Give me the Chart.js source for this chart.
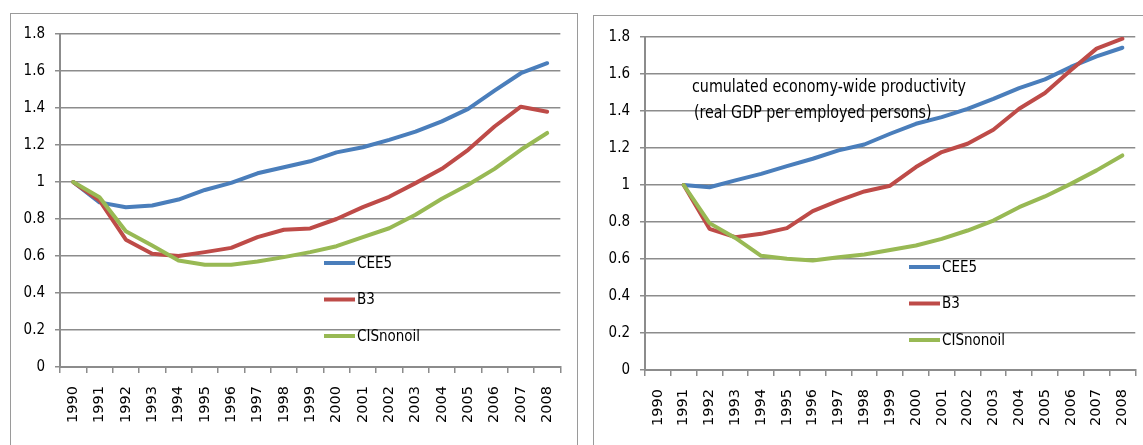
<!DOCTYPE html>
<html><head><meta charset="utf-8">
<script src="https://cdn.jsdelivr.net/npm/chart.js@4.4.0/dist/chart.umd.min.js"></script>
<style>
html,body{margin:0;padding:0;width:1143px;height:445px;overflow:hidden;background:#fff;}
.box{position:absolute;border:1px solid #9a9a9a;box-sizing:border-box;}
#b1{left:10px;top:13px;width:568px;height:470px;}
#b2{left:593px;top:15px;width:620px;height:470px;}
canvas{position:absolute;}
#c1{left:10px;top:13px;}
#c2{left:593px;top:15px;}
</style></head>
<body>
<div class="box" id="b1"></div>
<div class="box" id="b2"></div>
<canvas id="c1" width="568" height="432"></canvas>
<canvas id="c2" width="560" height="430"></canvas>
<script>
const years = ['1990','1991','1992','1993','1994','1995','1996','1997','1998','1999','2000','2001','2002','2003','2004','2005','2006','2007','2008'];
const seriesNames = ['CEE5','B3','CISnonoil'];
const yTicks = [0,0.2,0.4,0.6,0.8,1,1.2,1.4,1.6,1.8];

// left chart
const leftCEE5 = [1.00,0.89,0.864,0.873,0.905,0.957,0.995,1.047,1.08,1.112,1.16,1.188,1.228,1.272,1.328,1.395,1.494,1.588,1.642];
const leftB3   = [1.00,0.90,0.688,0.612,0.600,0.621,0.644,0.702,0.742,0.749,0.80,0.864,0.92,0.994,1.071,1.174,1.30,1.407,1.38];
const leftCIS  = [1.00,0.918,0.734,0.657,0.576,0.553,0.553,0.57,0.594,0.621,0.653,0.702,0.75,0.823,0.909,0.985,1.071,1.174,1.265];

// right chart
const rightCEE5 = [null,1.00,0.988,1.025,1.06,1.102,1.142,1.187,1.219,1.277,1.331,1.367,1.412,1.466,1.524,1.571,1.638,1.695,1.742];
const rightB3   = [null,1.00,0.763,0.718,0.736,0.767,0.859,0.916,0.965,0.996,1.097,1.178,1.223,1.299,1.412,1.497,1.62,1.737,1.791];
const rightCIS  = [null,1.00,0.794,0.714,0.617,0.601,0.592,0.61,0.624,0.649,0.673,0.709,0.754,0.808,0.88,0.938,1.006,1.079,1.16];

const noteLines = ['cumulated economy-wide productivity','(real GDP per employed persons)'];

const colors = ['#4A7EBB','#BE4B48','#98B954'];
const NARROW = '"Liberation Sans Narrow","DejaVu Sans Condensed",sans-serif';

const insideLegend = {
  id:'insideLegend',
  afterDatasetsDraw(chart, args, o){
    const {ctx, chartArea:a} = chart;
    ctx.save();
    chart.data.datasets.forEach((ds,i)=>{
      const x = a.left + o.dx, y = a.top + o.dy + i*o.gap;
      ctx.strokeStyle = ds.borderColor; ctx.lineWidth = 4; ctx.lineCap='butt';
      ctx.beginPath(); ctx.moveTo(x,y); ctx.lineTo(x+31,y); ctx.stroke();
      ctx.fillStyle='#000'; ctx.font='15px '+NARROW; ctx.textBaseline='middle'; ctx.textAlign='left';
      ctx.fillText(ds.label, x+33, y+1);
    });
    ctx.restore();
  }
};
const noteText = {
  id:'noteText',
  afterDatasetsDraw(chart, args, o){
    if(!o.lines) return;
    const {ctx, chartArea:a} = chart;
    ctx.save();
    ctx.fillStyle='#000'; ctx.font='18px '+NARROW; ctx.textBaseline='middle'; ctx.textAlign='left';
    const k = o.width / ctx.measureText(o.lines[0]).width;
    o.lines.forEach((t,i)=>{
      ctx.save();
      ctx.translate(a.left + o.dx + (i? 2:0), a.top + o.dy + i*o.gap);
      ctx.scale(k,1);
      ctx.fillText(t, 0, 0);
      ctx.restore();
    });
    ctx.restore();
  }
};

function makeChart(id, data, geom, note){
  const grid = '#8c8c8c';
  return new Chart(document.getElementById(id), {
    type:'line',
    data:{
      labels: years,
      datasets: seriesNames.map((n,i)=>({
        label:n, data:data[i], borderColor:colors[i], backgroundColor:colors[i],
        borderWidth:4, pointRadius:0, tension:0, order:3-i, spanGaps:false,
        borderJoinStyle:'round', borderCapStyle:'round'
      }))
    },
    options:{
      responsive:false, animation:false,
      layout:{padding:{left:0,right:geom.padR,top:geom.padT,bottom:0}},
      plugins:{legend:{display:false}, tooltip:{enabled:false},
        insideLegend:{dx:264, dy:geom.legDy, gap:36.5},
        noteText:note||{}},
      scales:{
        x:{
          offset:true,
          grid:{display:true, drawOnChartArea:false, drawTicks:true, tickLength:6, color:grid, lineWidth:1.5, offset:true},
          border:{display:true, color:grid, width:2},
          ticks:{autoSkip:false, maxRotation:90, minRotation:90, padding:13, color:'#000', font:{family:'"DejaVu Sans"', size:14.5}},
          afterFit(s){ s.height = geom.xH; }
        },
        y:{
          min:0, max:1.8,
          afterBuildTicks(s){ s.ticks = yTicks.map(v=>({value:v})); },
          grid:{color:grid, lineWidth:1.5, tickLength:5, drawTicks:true},
          border:{display:true, color:grid, width:2},
          ticks:{padding:10, color:'#000', font:{family:NARROW, size:15}, callback:v=>String(+v.toFixed(1))},
          afterFit(s){ s.width = geom.yW; }
        }
      }
    },
    plugins:[insideLegend, noteText]
  });
}

makeChart('c1', [leftCEE5,leftB3,leftCIS], {padR:16, padT:21, xH:78, yW:50, legDy:229});
makeChart('c2', [rightCEE5,rightB3,rightCIS], {padR:9, padT:22, xH:75, yW:52, legDy:230},
  {lines:noteLines, dx:47, dy:50, gap:26, width:274});
</script>
</body></html>
